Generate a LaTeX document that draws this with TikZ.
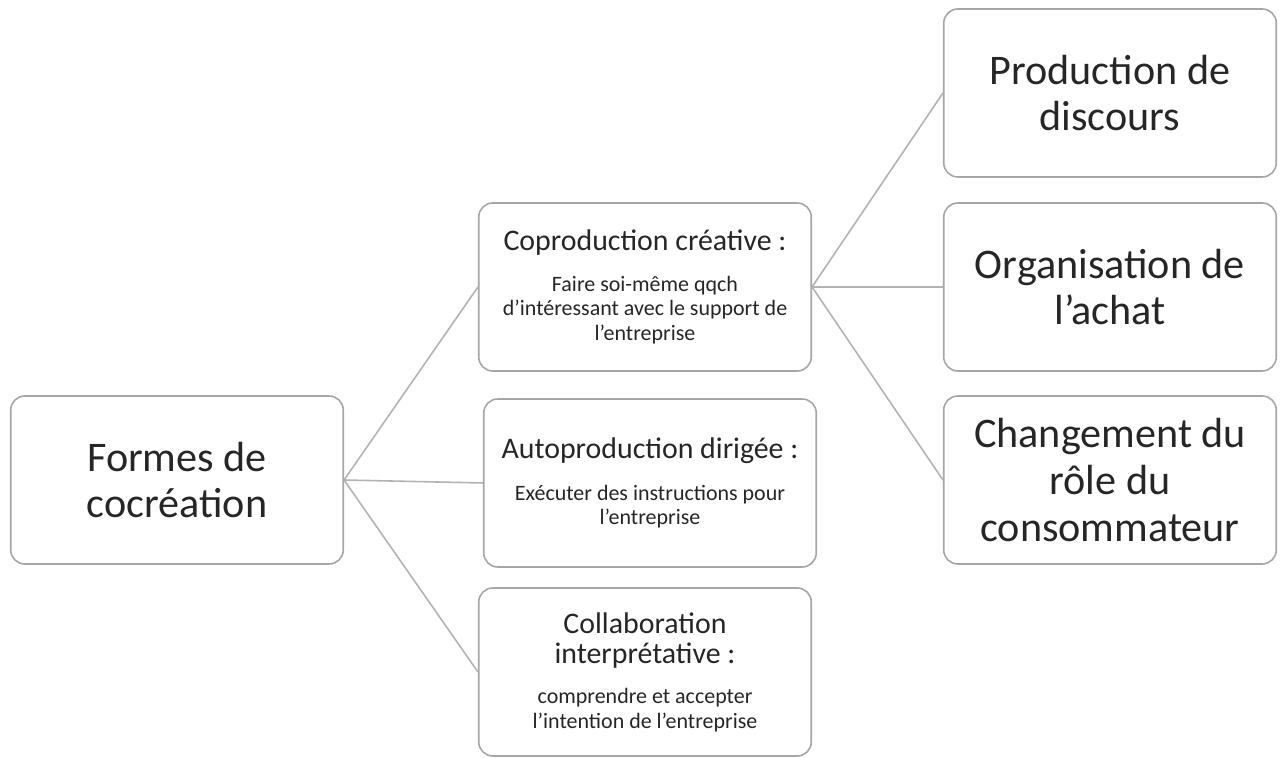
\documentclass[tikz,border=0pt]{standalone}
\usepackage{fontspec}
\setmainfont{Carlito}
\usepackage{tikz}
\usetikzlibrary{positioning}
\newcommand{\ttl}{\fontsize{17}{17}\selectfont}

\begin{document}
\begin{tikzpicture}[every node/.style={align=center},
	box/.style={draw=gray!70, line width=0.9pt, rounded corners=8pt, minimum width=6.65cm, minimum height=3.36cm, text=black!85, font=\fontsize{12.5}{14}\selectfont},
	big/.style={box, font=\fontsize{24}{26.5}\selectfont},
	link/.style={draw=gray!60, line width=0.9pt}]
			\useasboundingbox (0,0) rectangle (25.62,15.16);
			\node[big] (F) at (3.54,5.56)  {Formes de\\cocréation};
			\node[box] (C) at (12.9,9.42)  {\ttl Coproduction créative :\\[9pt]
				Faire soi-même qqch\\d'intéressant avec le support de\\l'entreprise};
			\node[box] (A) at (13.0,5.5)   {\ttl Autoproduction dirigée :\\[10pt]
				Exécuter des instructions pour\\l'entreprise};
			\node[box] (I) at (12.9,1.72)  {\ttl Collaboration\\[3pt]\ttl interprétative :\\[9pt]
				comprendre et accepter\\l'intention de l'entreprise};
			\node[big] (P) at (22.2,13.3)  {Production de\\discours};
			\node[big] (O) at (22.2,9.42)  {Organisation de\\l'achat};
			\node[big] (R) at (22.2,5.56)  {Changement du\\rôle du\\consommateur};
			\draw[link] (F.east) -- (C.west);
			\draw[link] (F.east) -- (A.west);
			\draw[link] (F.east) -- (I.west);
			\draw[link] (C.east) -- (P.west);
			\draw[link] (C.east) -- (O.west);
			\draw[link] (C.east) -- (R.west);
		\end{tikzpicture}
\end{document}
